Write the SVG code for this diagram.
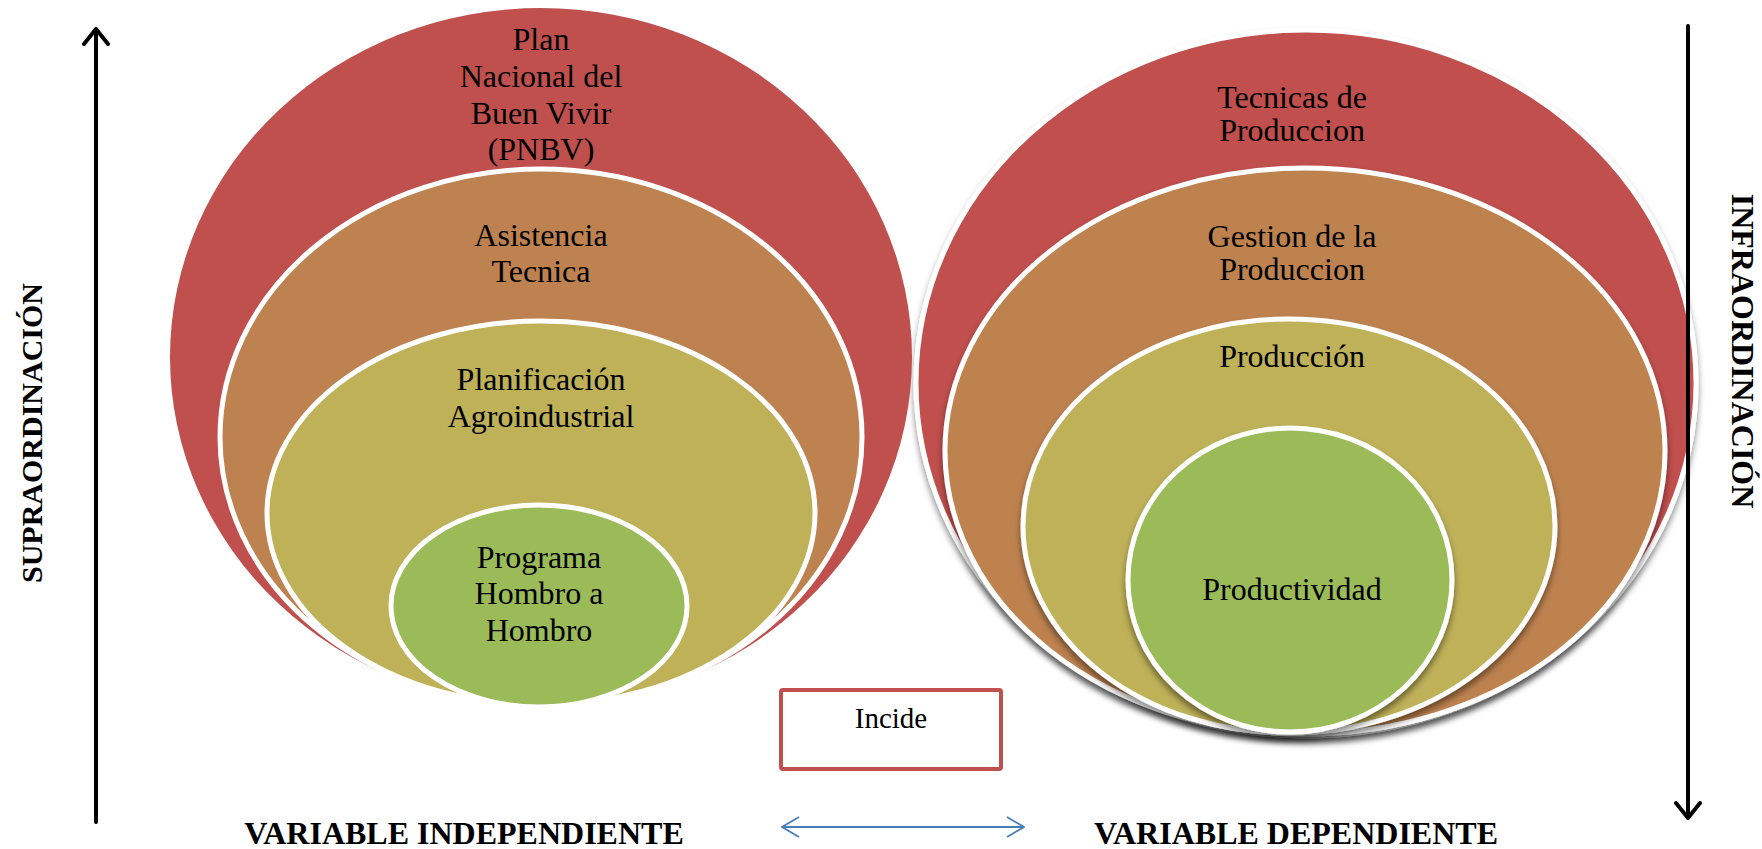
<svg xmlns="http://www.w3.org/2000/svg" width="1762" height="849" viewBox="0 0 1762 849">
<style>
.t{font-family:"Liberation Serif","Times New Roman",serif;font-size:32px;fill:#000;text-anchor:middle}
.b{font-family:"Liberation Serif","Times New Roman",serif;font-size:32px;font-weight:bold;fill:#000;text-anchor:middle}
.ring{stroke:#fff;stroke-width:5}
.c1{fill:#c0504d}.c2{fill:#be8250}.c3{fill:#bfb158}.c4{fill:#9bbb59}
.ax{stroke:#000;stroke-width:4;fill:none;stroke-linecap:round;stroke-linejoin:round}
</style>
<defs>
<filter id="sh" x="-10%" y="-10%" width="120%" height="125%">
<feDropShadow dx="0" dy="5" stdDeviation="3" flood-color="#000" flood-opacity="0.45"/>
</filter>
<marker id="bh" viewBox="0 0 20 24" refX="19" refY="12" markerWidth="20" markerHeight="24" markerUnits="userSpaceOnUse" orient="auto-start-reverse">
<path d="M2,2 L19,12 L2,22" fill="none" stroke="#4a7ebb" stroke-width="1.8"/>
</marker>
</defs>
<g id="right-group">
<g id="r1"><ellipse class="c1 ring" cx="1306" cy="383" rx="390" ry="353" filter="url(#sh)"/></g>
<g id="r2"><ellipse class="c2 ring" cx="1305" cy="451" rx="360" ry="283" filter="url(#sh)"/></g>
<g id="r3"><ellipse class="c3 ring" cx="1289" cy="526" rx="266" ry="207" filter="url(#sh)"/></g>
<g id="r4"><ellipse class="c4 ring" cx="1290" cy="580" rx="162" ry="152" filter="url(#sh)"/></g>
<g id="r1-text"><text class="t" x="1292" y="108">Tecnicas de</text><text class="t" x="1292" y="141">Produccion</text></g>
<g id="r2-text"><text class="t" x="1292" y="247">Gestion de la</text><text class="t" x="1292" y="280">Produccion</text></g>
<g id="r3-text"><text class="t" x="1292" y="367">Producción</text></g>
<g id="r4-text"><text class="t" x="1292" y="600">Productividad</text></g>
</g>
<g id="left-group">
<g id="l1"><ellipse class="c1" cx="541" cy="357" rx="371" ry="349"/></g>
<g id="l2"><ellipse class="c2 ring" cx="541" cy="437" rx="321" ry="268"/></g>
<g id="l3"><ellipse class="c3 ring" cx="541" cy="513" rx="274" ry="192"/></g>
<g id="l4"><ellipse class="c4 ring" cx="539" cy="606" rx="148" ry="101"/></g>
<g id="l1-text"><text class="t" x="541" y="50">Plan</text><text class="t" x="541" y="87">Nacional del</text><text class="t" x="541" y="124">Buen Vivir</text><text class="t" x="541" y="160">(PNBV)</text></g>
<g id="l2-text"><text class="t" x="541" y="246">Asistencia</text><text class="t" x="541" y="282">Tecnica</text></g>
<g id="l3-text"><text class="t" x="541" y="390">Planificación</text><text class="t" x="541" y="427">Agroindustrial</text></g>
<g id="l4-text"><text class="t" x="539" y="568">Programa</text><text class="t" x="539" y="604">Hombro a</text><text class="t" x="539" y="641">Hombro</text></g>
</g>
<g id="incide">
<rect x="781" y="690" width="220" height="79" rx="2" fill="#fff" stroke="#c0504d" stroke-width="4"/>
<text class="t" x="891" y="728" style="font-size:29px">Incide</text>
</g>
<g id="connectors">
<path class="ax" d="M96,822 L96,29 M84,44 L96,29 L108,44"/>
<path class="ax" d="M1688,26 L1688,818 M1676,803 L1688,818 L1700,803"/>
<line x1="782" y1="827" x2="1024" y2="827" stroke="#4a7ebb" stroke-width="1.8" marker-start="url(#bh)" marker-end="url(#bh)"/>
</g>
<g id="labels">
<text class="b" transform="translate(42,433) rotate(-90)" style="font-size:30px">SUPRAORDINACIÓN</text>
<text class="b" transform="translate(1732,351) rotate(90)">INFRAORDINACIÓN</text>
<text class="b" x="464" y="844">VARIABLE INDEPENDIENTE</text>
<text class="b" x="1296" y="844">VARIABLE DEPENDIENTE</text>
</g>
</svg>
